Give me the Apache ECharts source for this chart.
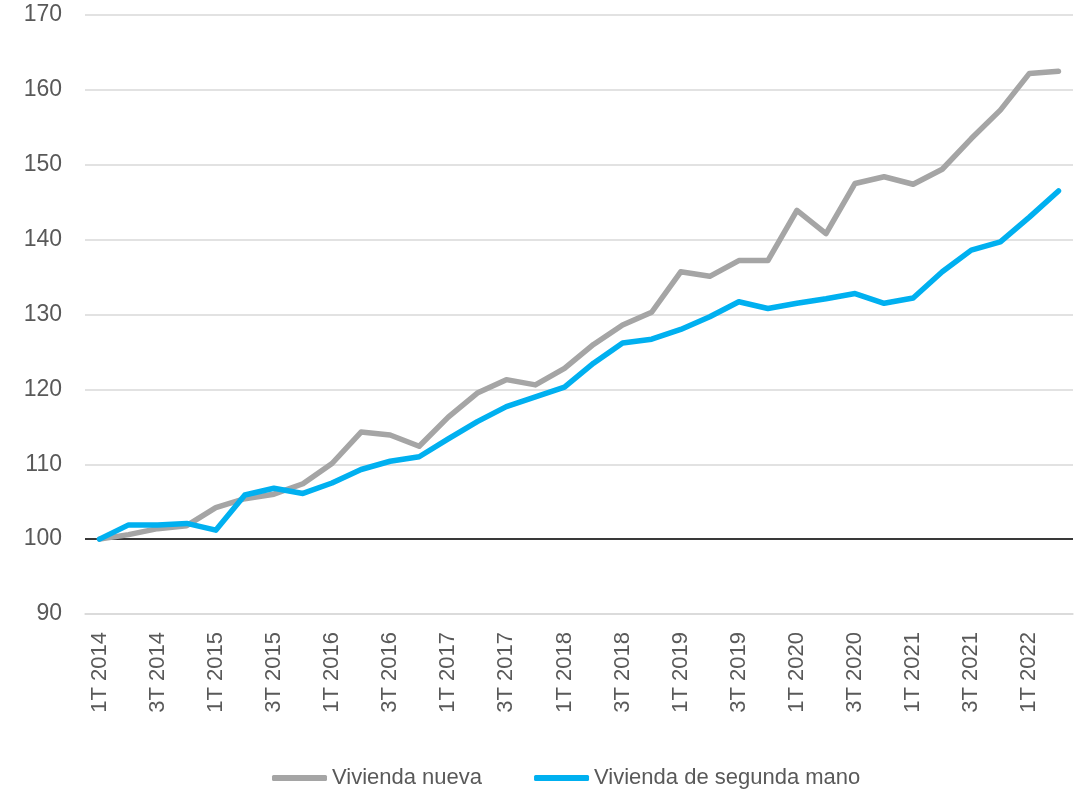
<!DOCTYPE html>
<html>
<head>
<meta charset="utf-8">
<script src="https://cdn.jsdelivr.net/npm/echarts@6/dist/echarts.min.js"></script>
<style>
  html, body { margin: 0; padding: 0; background: #fff; }
  #chart { width: 1084px; height: 791px; }
</style>
</head>
<body>
<div id="chart"></div>
<script>
// Quarterly housing price index (1T 2014 = 100)
const quarters = [
  '1T 2014','2T 2014','3T 2014','4T 2014',
  '1T 2015','2T 2015','3T 2015','4T 2015',
  '1T 2016','2T 2016','3T 2016','4T 2016',
  '1T 2017','2T 2017','3T 2017','4T 2017',
  '1T 2018','2T 2018','3T 2018','4T 2018',
  '1T 2019','2T 2019','3T 2019','4T 2019',
  '1T 2020','2T 2020','3T 2020','4T 2020',
  '1T 2021','2T 2021','3T 2021','4T 2021',
  '1T 2022','2T 2022'
];

const viviendaNueva = [
  100.0, 100.6, 101.4, 101.8,
  104.2, 105.4, 106.0, 107.4,
  110.1, 114.3, 113.9, 112.4,
  116.3, 119.5, 121.3, 120.6,
  122.8, 126.0, 128.6, 130.3,
  135.7, 135.1, 137.2, 137.2,
  143.9, 140.8, 147.5, 148.4,
  147.4, 149.4, 153.5, 157.3,
  162.2, 162.5
];

const viviendaSegundaMano = [
  100.0, 101.9, 101.9, 102.1,
  101.2, 105.9, 106.8, 106.1,
  107.5, 109.3, 110.4, 111.0,
  113.4, 115.7, 117.7, 119.0,
  120.3, 123.5, 126.2, 126.7,
  128.0, 129.7, 131.7, 130.8,
  131.5, 132.1, 132.8, 131.5,
  132.2, 135.7, 138.6, 139.7,
  143.0, 146.5
];

const yTicks = { min: 90, max: 170, step: 10 };
const baseLevel = 100;

const textColor = '#595959';
const fontFamily = '"Liberation Sans", Arial, sans-serif';

const chart = echarts.init(document.getElementById('chart'));
chart.setOption({
  animation: false,
  backgroundColor: '#ffffff',
  grid: { left: 85, right: 11, top: 15, bottom: 177, containLabel: false },
  legend: {
    top: 762,
    left: 267,
    itemWidth: 55,
    itemHeight: 6,
    itemGap: 52,
    icon: 'roundRect',
    textStyle: { color: textColor, fontSize: 22, fontFamily: fontFamily },
    data: ['Vivienda nueva', 'Vivienda de segunda mano']
  },
  xAxis: {
    type: 'category',
    data: quarters,
    boundaryGap: true,
    axisLine: { show: true, lineStyle: { color: '#d9d9d9', width: 1.5 } },
    axisTick: { show: false },
    axisLabel: {
      rotate: 90,
      interval: 1,
      margin: 18,
      color: textColor,
      fontSize: 22,
      fontFamily: fontFamily
    },
    splitLine: { show: false }
  },
  yAxis: {
    type: 'value',
    min: yTicks.min,
    max: yTicks.max,
    interval: yTicks.step,
    axisLine: { show: false },
    axisTick: { show: false },
    axisLabel: { color: textColor, fontSize: 23, margin: 23, fontFamily: fontFamily },
    splitLine: { lineStyle: { color: '#d9d9d9', width: 1.5 } }
  },
  series: [
    {
      name: 'Vivienda nueva',
      type: 'line',
      data: viviendaNueva,
      symbol: 'none',
      lineStyle: { color: '#a5a5a5', width: 5.5, cap: 'round', join: 'round' },
      itemStyle: { color: '#a5a5a5' },
      z: 3
    },
    {
      name: 'Vivienda de segunda mano',
      type: 'line',
      data: viviendaSegundaMano,
      symbol: 'none',
      lineStyle: { color: '#00b0f0', width: 5.5, cap: 'round', join: 'round' },
      itemStyle: { color: '#00b0f0' },
      z: 4,
      markLine: {
        silent: true,
        symbol: 'none',
        label: { show: false },
        lineStyle: { color: '#000000', width: 1.5, type: 'solid' },
        data: [{ yAxis: baseLevel }],
        z: 2
      }
    }
  ]
});
</script>
</body>
</html>
